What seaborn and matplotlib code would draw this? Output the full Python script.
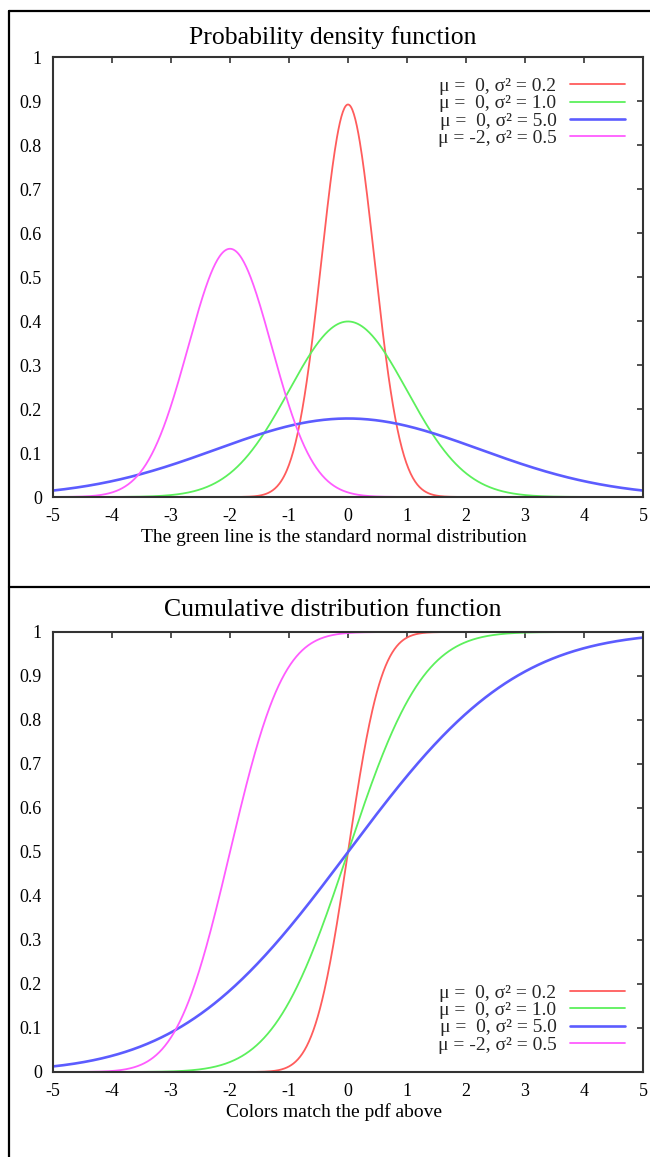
import math
import numpy as np
import pandas as pd
import matplotlib
matplotlib.use("Agg")
import matplotlib.pyplot as plt
from matplotlib.lines import Line2D
import seaborn as sns

means = [0, 0, 0, -2]
variances = [0.2, 1.0, 5.0, 0.5]
labels = ["\u03bc =  0, \u03c3\u00b2 = 0.2",
          "\u03bc =  0, \u03c3\u00b2 = 1.0",
          "\u03bc =  0, \u03c3\u00b2 = 5.0",
          "\u03bc = -2, \u03c3\u00b2 = 0.5"]
colors = ["#ff5c5c", "#5cf05c", "#5c5cff", "#ff5cff"]
widths = [1.3, 1.3, 1.9, 1.3]
x_ticks = [-5, -4, -3, -2, -1, 0, 1, 2, 3, 4, 5]
y_ticks = [0, 0.1, 0.2, 0.3, 0.4, 0.5, 0.6, 0.7, 0.8, 0.9, 1]
y_ticklabels = ["0", "0.1", "0.2", "0.3", "0.4", "0.5", "0.6", "0.7", "0.8", "0.9", "1"]
titles = ["Probability density function", "Cumulative distribution function"]
captions = ["The green line is the standard normal distribution", "Colors match the pdf above"]

xs = np.linspace(-5, 5, 801)
rows = []
for lab, m, v in zip(labels, means, variances):
    s = math.sqrt(v)
    for x in xs:
        pdf = math.exp(-(x - m) ** 2 / (2 * v)) / (s * math.sqrt(2 * math.pi))
        cdf = 0.5 * (1 + math.erf((x - m) / (s * math.sqrt(2))))
        rows.append((lab, x, pdf, cdf))
df = pd.DataFrame(rows, columns=["series", "x", "pdf", "cdf"])

sns.set_theme(style="white")
plt.rcParams["font.family"] = ["Liberation Serif", "DejaVu Serif"]
plt.rcParams["axes.unicode_minus"] = False

W, H = 650, 1157
fig = plt.figure(figsize=(W / 100, H / 100), dpi=100)
fig.patch.set_facecolor("white")

def fx(px):
    return px / W

def fy(py):
    return 1 - py / H

# table-like borders
fig.add_artist(Line2D([fx(9), fx(9)], [fy(11), fy(1160)], color="black", lw=1.6))
fig.add_artist(Line2D([fx(9), fx(652)], [fy(11), fy(11)], color="black", lw=1.6))
fig.add_artist(Line2D([fx(9), fx(652)], [fy(587), fy(587)], color="black", lw=1.6))

panels = [
    dict(col="pdf", top=57, bottom=497, title_y=38, cap_y=537, loc="upper right",
         anchor=(1.0, 1.0 - 2.0 / 440)),
    dict(col="cdf", top=632, bottom=1072, title_y=610, cap_y=1112, loc="lower right",
         anchor=(1.0, 0.0)),
]

for i, p in enumerate(panels):
    ax = fig.add_axes([fx(53), fy(p["bottom"]), fx(643) - fx(53),
                       (p["bottom"] - p["top"]) / H])
    sns.lineplot(data=df, x="x", y=p["col"], hue="series", hue_order=labels,
                 palette=colors, ax=ax, legend=False, estimator=None, sort=False)
    for ln, w in zip(ax.get_lines(), widths):
        ln.set_linewidth(w)
    ax.set_xlim(-5, 5)
    ax.set_ylim(0, 1)
    ax.set_xticks(x_ticks)
    ax.set_xticklabels([str(t) for t in x_ticks])
    ax.set_yticks(y_ticks)
    ax.set_yticklabels(y_ticklabels)
    ax.set_xlabel("")
    ax.set_ylabel("")
    ax.tick_params(direction="in", top=True, right=True, length=4, width=1.2,
                   color="#333333", labelsize=13, labelcolor="black")
    ax.tick_params(axis="x", pad=8)
    ax.tick_params(axis="y", pad=8)
    for sp in ax.spines.values():
        sp.set_visible(True)
        sp.set_color("#333333")
        sp.set_linewidth(1.5)
    handles = [Line2D([0], [0], color=c, lw=w) for c, w in zip(colors, widths)]
    ax.legend(handles, labels, loc=p["loc"], bbox_to_anchor=p["anchor"],
              markerfirst=False, frameon=False, fontsize=14, handlelength=2.8,
              handletextpad=0.7, labelspacing=-0.02, borderaxespad=0.6,
              borderpad=0.35)
    fig.text(fx(333), fy(p["title_y"]), titles[i], ha="center", va="center",
             fontsize=18.5, color="black")
    fig.text(fx(334), fy(p["cap_y"]), captions[i], ha="center", va="center",
             fontsize=14, color="black")

fig.savefig("out.png", dpi=100)
